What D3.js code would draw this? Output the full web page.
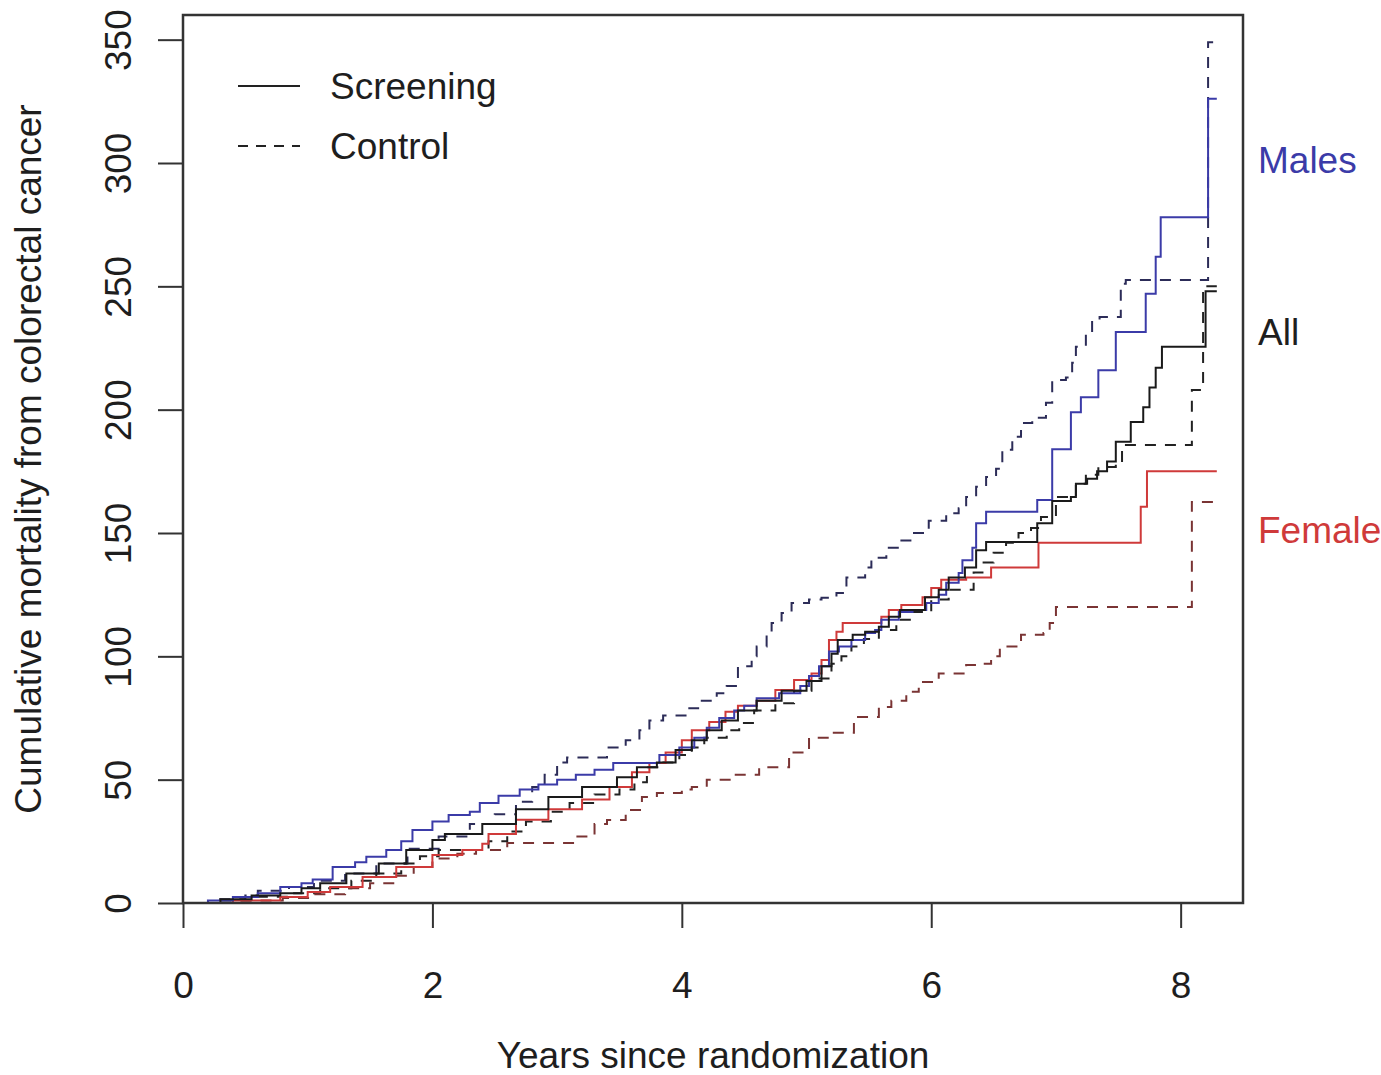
<!DOCTYPE html>
<html>
<head>
<meta charset="utf-8">
<script src="https://cdn.jsdelivr.net/npm/d3@7"></script>
<style>
  html, body { margin: 0; padding: 0; background: #fff; }
  svg text { font-family: "Liberation Sans", Arial, sans-serif; fill: #1e1e1e; }
</style>
</head>
<body>
<div id="chart"></div>
<script>
// [years since randomization, cumulative mortality] step points, last pair = end of follow-up
const malesScreening = [
  [0, 0], [0.2, 1], [0.4, 2.4], [0.6, 4], [0.78, 6.5], [0.95, 8], [1.04, 9.5], [1.2, 14.6],
  [1.38, 16.5], [1.47, 18.7], [1.63, 21.5], [1.75, 25], [1.84, 29.6], [2.0, 33], [2.13, 35.7],
  [2.3, 37], [2.38, 40.5], [2.53, 43.5], [2.7, 46], [2.85, 48], [3.0, 50], [3.15, 52], [3.3, 54],
  [3.45, 56.8], [3.82, 60], [3.98, 63], [4.1, 67], [4.2, 71], [4.3, 75], [4.42, 78], [4.5, 80],
  [4.6, 83], [4.78, 85], [4.95, 88], [5.02, 92], [5.1, 96], [5.18, 102], [5.26, 104], [5.36, 106.6],
  [5.47, 109.5], [5.55, 110.7], [5.6, 114.8], [5.74, 118], [5.85, 118.8], [5.96, 121.6], [6.06, 125],
  [6.12, 129.8], [6.22, 133.8], [6.25, 139], [6.33, 144], [6.36, 154], [6.44, 158.6], [6.85, 163.4],
  [6.97, 184], [7.12, 199], [7.2, 205], [7.34, 216], [7.48, 231.5], [7.72, 247], [7.8, 262],
  [7.84, 278], [8.22, 326], [8.29, 326]
];
const allScreening = [
  [0, 0], [0.3, 1.5], [0.55, 3], [0.78, 4], [0.95, 6], [1.1, 8], [1.31, 12], [1.57, 16], [1.79, 21.5],
  [2.0, 25.5], [2.1, 28], [2.4, 32], [2.67, 38], [2.93, 43], [3.2, 47], [3.48, 51], [3.64, 55],
  [3.8, 57], [3.95, 62], [4.08, 66], [4.2, 70], [4.32, 74], [4.45, 78], [4.6, 82], [4.8, 86],
  [5.0, 90], [5.12, 96], [5.2, 101], [5.25, 106.6], [5.37, 108.7], [5.47, 110], [5.58, 112],
  [5.66, 116], [5.75, 118.8], [5.95, 124], [6.06, 127], [6.14, 132], [6.27, 136], [6.36, 143],
  [6.44, 146.4], [6.85, 154], [6.97, 163], [7.12, 164.6], [7.16, 170], [7.25, 172], [7.33, 175],
  [7.41, 179], [7.48, 187], [7.6, 195], [7.7, 201], [7.75, 209], [7.8, 217], [7.85, 225.5],
  [8.2, 248], [8.29, 248]
];
const femalesScreening = [
  [0, 0], [0.4, 1], [0.78, 2.4], [1.0, 4.5], [1.18, 6.5], [1.44, 10.5], [1.71, 14.6], [2.0, 19.5],
  [2.24, 21.5], [2.4, 24], [2.45, 28], [2.67, 33.7], [2.93, 38], [3.2, 42], [3.42, 47], [3.6, 53],
  [3.74, 56.8], [3.87, 61], [4.0, 66], [4.08, 70], [4.22, 73.4], [4.35, 77.5], [4.45, 80], [4.6, 82],
  [4.75, 86.4], [4.9, 90.4], [5.04, 93], [5.12, 98.5], [5.18, 106.6], [5.24, 110], [5.29, 113.5],
  [5.6, 116], [5.66, 118.8], [5.76, 120.8], [5.93, 124], [6.0, 127.7], [6.08, 131], [6.28, 132],
  [6.48, 136], [6.86, 146], [7.68, 160.6], [7.73, 175], [8.29, 175]
];
const malesControl = [
  [0, 0], [0.25, 1.5], [0.5, 3], [0.6, 5], [0.85, 6.5], [1.05, 9], [1.3, 12], [1.55, 16], [1.8, 22],
  [2.05, 27], [2.3, 32], [2.5, 36], [2.67, 41], [2.8, 47], [2.9, 52], [3.0, 57], [3.08, 59],
  [3.4, 63], [3.55, 66], [3.66, 70], [3.74, 74], [3.85, 76], [4.06, 79], [4.16, 82], [4.28, 85],
  [4.36, 88], [4.45, 96], [4.56, 100], [4.6, 104], [4.68, 109.5], [4.72, 113.5], [4.8, 117.6],
  [4.88, 121.6], [5.02, 123], [5.12, 123.7], [5.24, 125.7], [5.32, 132], [5.47, 136], [5.52, 140],
  [5.64, 144], [5.74, 147], [5.85, 150], [5.98, 155], [6.12, 158], [6.22, 160], [6.28, 164.6],
  [6.36, 168.7], [6.44, 172.7], [6.52, 176], [6.57, 183.7], [6.65, 189], [6.72, 194.6],
  [6.81, 196.7], [6.92, 202.8], [6.97, 212], [7.08, 213], [7.13, 219], [7.16, 225.5], [7.24, 231],
  [7.29, 236.4], [7.35, 237.6], [7.52, 251], [7.56, 252.6], [8.22, 349], [8.29, 349]
];
const allControl = [
  [0, 0], [0.3, 1], [0.6, 2.5], [0.85, 4], [1.1, 6], [1.35, 9], [1.55, 12], [1.75, 16], [1.9, 19],
  [2.05, 21.5], [2.45, 25], [2.6, 29], [2.75, 33], [2.95, 37], [3.1, 40.5], [3.3, 44], [3.5, 46],
  [3.62, 49], [3.72, 55], [3.82, 57], [3.98, 60], [4.08, 63], [4.18, 67], [4.36, 70], [4.46, 73],
  [4.58, 78], [4.75, 81], [4.9, 86], [5.04, 91], [5.2, 97], [5.28, 100], [5.36, 104], [5.46, 107],
  [5.58, 110.7], [5.72, 114.8], [5.85, 118], [6.0, 123], [6.14, 127], [6.34, 134], [6.42, 138],
  [6.5, 142], [6.6, 146], [6.7, 150], [6.8, 152], [6.88, 156.5], [7.0, 164.6], [7.16, 170],
  [7.24, 173.6], [7.34, 176.8], [7.48, 178.4], [7.53, 185.7], [8.09, 208], [8.18, 250], [8.29, 250]
];
const femalesControl = [
  [0, 0], [0.4, 1], [0.8, 2], [1.05, 3.5], [1.3, 6], [1.5, 8], [1.7, 11], [1.85, 14.6], [2.0, 18],
  [2.2, 20], [2.35, 21.5], [2.6, 24.3], [3.15, 27], [3.3, 32], [3.4, 33.6], [3.55, 37.7], [3.68, 43],
  [3.8, 44.6], [4.0, 46], [4.08, 47], [4.2, 50], [4.4, 52], [4.62, 55], [4.86, 61], [5.02, 67],
  [5.18, 69], [5.38, 75.4], [5.58, 79.5], [5.68, 82], [5.8, 85.6], [5.9, 89.6], [6.06, 93],
  [6.28, 96.5], [6.38, 97], [6.48, 100], [6.55, 104], [6.72, 108.7], [6.9, 109.5], [6.95, 113.5],
  [7.0, 120], [8.09, 162.6], [8.29, 162.6]
];

const xTicks = [0, 2, 4, 6, 8];
const yTicks = [0, 50, 100, 150, 200, 250, 300, 350];
const legendLabels = ["Screening", "Control"];
const groupLabels = ["Males", "All", "Female"];

const blue = "#3b3ba8";
const red = "#cf3a3a";
const series = [
  { data: malesControl, color: "#2c2c58", dash: "11,9" },
  { data: allControl, color: "#222", dash: "11,9" },
  { data: femalesControl, color: "#7a3434", dash: "11,9" },
  { data: femalesScreening, color: red, dash: null },
  { data: malesScreening, color: blue, dash: null },
  { data: allScreening, color: "#1a1a1a", dash: null }
];

const width = 1381, height = 1075;
const box = { left: 183, right: 1243, top: 15, bottom: 903 };

const svg = d3.select("#chart").append("svg")
  .attr("width", width)
  .attr("height", height);

const x = d3.scaleLinear().domain([0, 8.5]).range([box.left, box.right]);
const y = d3.scaleLinear().domain([0, 360]).range([box.bottom, box.top]);

// axes
const xAxis = svg.append("g")
  .attr("transform", `translate(0,${box.bottom})`)
  .call(d3.axisBottom(x).tickValues(xTicks).tickSize(25).tickFormat(d3.format("d")));
xAxis.select(".domain").remove();
xAxis.selectAll(".tick line").attr("stroke", "#333").attr("stroke-width", 2);
xAxis.selectAll(".tick text")
  .attr("y", 95).attr("dy", 0)
  .style("font-size", "37px");

const yAxis = svg.append("g")
  .attr("transform", `translate(${box.left},0)`)
  .call(d3.axisLeft(y).tickValues(yTicks).tickSize(25).tickFormat(d3.format("d")));
yAxis.select(".domain").remove();
yAxis.selectAll(".tick line").attr("stroke", "#333").attr("stroke-width", 2);
yAxis.selectAll(".tick text")
  .attr("transform", "rotate(-90)")
  .attr("x", 0).attr("y", -52).attr("dy", 0)
  .attr("text-anchor", "middle")
  .style("font-size", "37px");

// lines
const line = d3.line()
  .x((d) => x(d[0]))
  .y((d) => y(d[1]))
  .curve(d3.curveStepAfter);

svg.append("g").selectAll("path")
  .data(series)
  .join("path")
  .attr("d", (d) => line(d.data))
  .attr("fill", "none")
  .attr("stroke", (d) => d.color)
  .attr("stroke-width", 2)
  .attr("stroke-dasharray", (d) => d.dash);

// frame
svg.append("rect")
  .attr("x", box.left).attr("y", box.top)
  .attr("width", box.right - box.left).attr("height", box.bottom - box.top)
  .attr("fill", "none").attr("stroke", "#333").attr("stroke-width", 2.5);

// titles
svg.append("text")
  .attr("x", (box.left + box.right) / 2).attr("y", 1068)
  .attr("text-anchor", "middle")
  .style("font-size", "37px")
  .text("Years since randomization");

svg.append("text")
  .attr("transform", `translate(41,${(box.top + box.bottom) / 2}) rotate(-90)`)
  .attr("text-anchor", "middle")
  .style("font-size", "37px")
  .text("Cumulative mortality from colorectal cancer");

// legend
const legend = svg.append("g").selectAll("g")
  .data(legendLabels)
  .join("g")
  .attr("transform", (d, i) => `translate(0,${86 + i * 60})`);
legend.append("line")
  .attr("x1", 238).attr("x2", 300)
  .attr("stroke", "#222").attr("stroke-width", 2)
  .attr("stroke-dasharray", (d, i) => i ? "10,8" : null);
legend.append("text")
  .attr("x", 330).attr("y", 13)
  .style("font-size", "37px")
  .text((d) => d);

// group labels at the right
const labelY = [173, 345, 543];
const labelColor = [blue, "#1e1e1e", red];
svg.append("g").selectAll("text")
  .data(groupLabels)
  .join("text")
  .attr("x", 1258)
  .attr("y", (d, i) => labelY[i])
  .style("font-size", "37px")
  .style("fill", (d, i) => labelColor[i])
  .text((d) => d);
</script>
</body>
</html>
